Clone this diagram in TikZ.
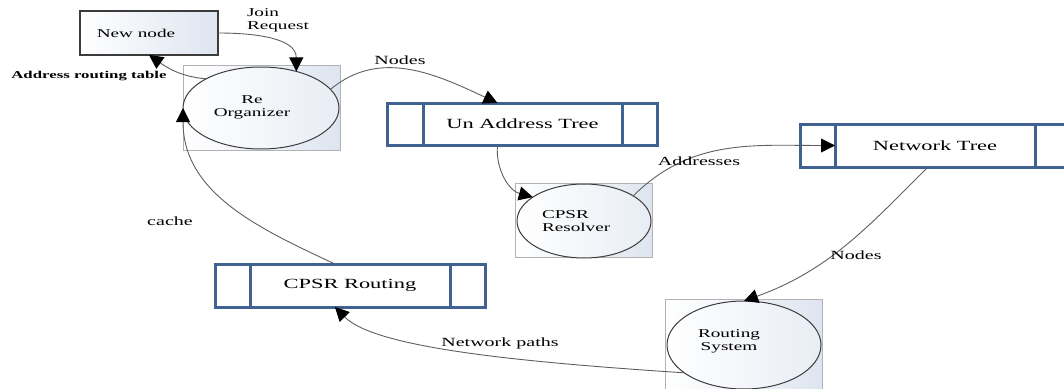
\documentclass[tikz,border=0pt]{standalone}
\usepackage{fontspec}
\setmainfont{Liberation Serif}[FakeStretch=1.6]
\usetikzlibrary{arrows.meta,shapes.geometric,calc}
\definecolor{storeblue}{RGB}{64,98,145}
\definecolor{paleblue}{RGB}{222,229,240}
\definecolor{wire}{RGB}{95,95,95}
\definecolor{edgegray}{RGB}{60,60,60}
\begin{document}
\begin{tikzpicture}[x=1pt,y=1pt,
  every node/.style={font=\fontsize{12}{13}\selectfont, inner sep=0pt, outer sep=0pt},
  procframe/.style={draw=gray!60, line width=0.8pt, left color=white, right color=paleblue},
  proc/.style={ellipse, draw=edgegray, line width=1pt, left color=white, right color=paleblue!70},
  store/.style={draw=storeblue, line width=3pt, minimum width=200pt, minimum height=43pt, fill=white,
    font=\fontsize{14}{16}\selectfont},
  storeframe/.style={draw=storeblue, line width=3pt},
  entity/.style={rectangle, draw=edgegray, line width=1.2pt, left color=white, right color=paleblue},
  flow/.style={draw=wire, line width=0.9pt, -{Triangle[length=14pt,width=14pt,color=black]}},
  flowlabel/.style={font=\fontsize{12.5}{13}\selectfont}
]
\useasboundingbox (0,0) rectangle (1064,-388);
\clip (0,0) rectangle (1064,-388);

% external entity
\node[entity, minimum width=138pt, minimum height=44pt] (nn) at (149,-33) {};
\node (nnt) at (136,-33) {New node};

% processes: framed ellipses
\node[procframe, minimum width=157pt, minimum height=85pt] (reorgbox) at (261.5,-107.5) {};
\node[proc, minimum width=156pt, minimum height=82pt] (reorg) at (261,-108) {};
\node[align=center] (reorgt) at (252,-107) {Re\\Organizer};

\node[procframe, minimum width=137pt, minimum height=74pt] (resolverbox) at (583.5,-220) {};
\node[proc, minimum width=134pt, minimum height=74pt] (resolver) at (584,-221) {};
\node[align=left, anchor=west] (resolvert) at (542,-221) {CPSR\\Resolver};

\node[procframe, minimum width=157pt, minimum height=101pt] (routingbox) at (743.5,-349.5) {};
\node[proc, minimum width=154pt, minimum height=88pt] (routing) at (744,-345) {};
\node[align=center] (routingt) at (729,-341) {Routing\\System};

% data stores
\node[store, minimum width=199pt, minimum height=42pt] (unaddr) at (522.5,-124) {Un Address Tree};
\draw[storeframe] ($(unaddr.north west)+(-36,0)$) rectangle ($(unaddr.south east)+(35,0)$);

\node[store] (nettree) at (935,-145.5) {Network Tree};
\draw[storeframe] ($(nettree.north west)+(-35,0)$) rectangle ($(nettree.south east)+(35,0)$);

\node[store] (cpsr) at (350,-285.5) {CPSR Routing};
\draw[storeframe] ($(cpsr.north west)+(-35,0)$) rectangle ($(cpsr.south east)+(35,0)$);

% data flows
\draw[flow] (nn.east) to[out=0,in=90] (reorg.46);
\node[align=left, anchor=west] (joinlbl) at (247,-20) {Join\\Request};

\draw[flow] (reorg.152) to[out=175,in=-35] (nn.south);
\node[font=\fontsize{10.5}{12}\selectfont\bfseries] (addrlbl) at (89,-76) {Address routing table};

\draw[flow] (reorg.15) to[out=40,in=155] (unaddr.140);
\node[flowlabel] (nodeslbl1) at (400,-60) {Nodes};

\draw[flow] (unaddr.-140) to[out=-95,in=165] (resolver.155);

\draw[flow] (resolver.27) to[out=45,in=180] (nettree.west);
\node[flowlabel] (addrslbl) at (699,-161) {Addresses};

\draw[flow] (nettree.-108) to[out=225,in=20] (routing.north);
\node[flowlabel] (nodeslbl2) at (856,-255) {Nodes};

\draw[flow] (routing.205) .. controls (520,-362) and (375,-348) .. (cpsr.-125);
\node[flowlabel] (pathslbl) at (500,-343) {Network paths};

\draw[flow] (cpsr.125) to[out=155,in=-90] (reorg.west);
\node[flowlabel] (cachelbl) at (170,-221) {cache};
\end{tikzpicture}
\end{document}
